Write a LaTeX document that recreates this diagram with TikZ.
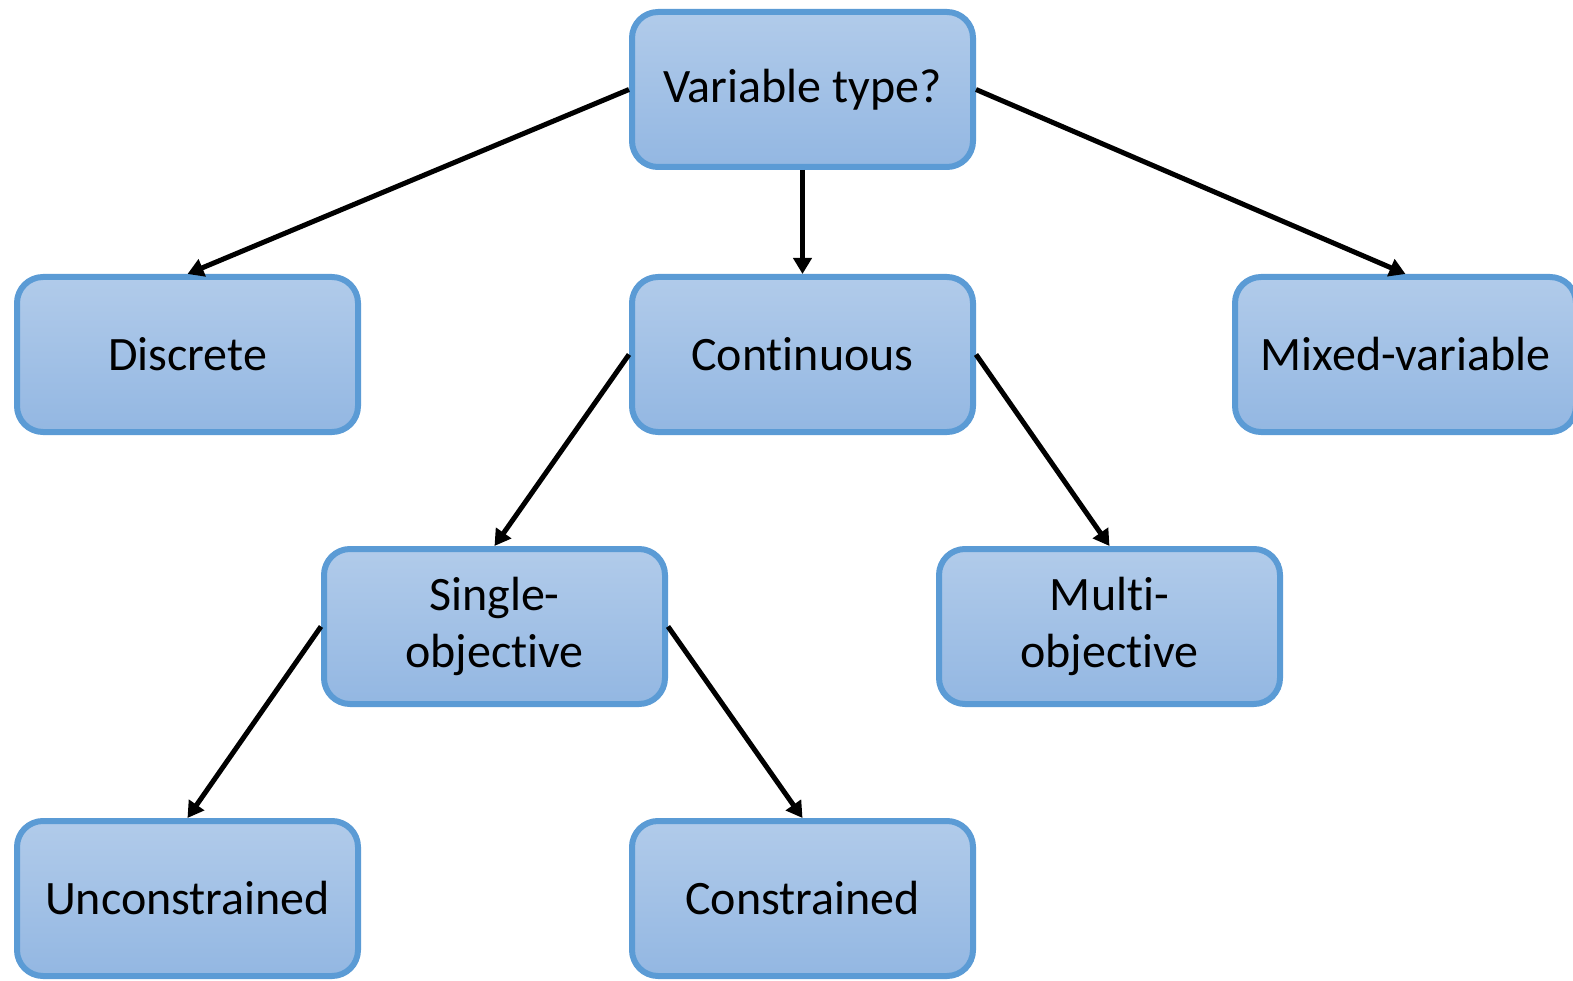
\documentclass[tikz,border=0pt]{standalone}
\usepackage{fontspec}
\setmainfont[Ligatures={NoCommon,NoContextual}]{Carlito}
\usetikzlibrary{arrows.meta}
\definecolor{boxtop}{HTML}{B1CBEA}
\definecolor{boxbot}{HTML}{93B7E2}
\definecolor{boxline}{HTML}{5B9BD5}
\begin{document}
\begin{tikzpicture}[x=1pt,y=-1pt,
  box/.style={draw=boxline, line width=6pt, rounded corners=26pt,
    top color=boxtop, bottom color=boxbot,
    minimum width=341pt, minimum height=155pt, inner sep=0pt,
    align=center, font=\fontsize{48}{57}\selectfont},
  link/.style={draw=black, line width=5pt,
    -{Triangle[length=16pt,width=18pt]}}]
\useasboundingbox (0,0) rectangle (1573,981);
\node[box] (var) at (802.5,89.5) {Variable type?};
\node[box] (disc) at (187.5,354.5) {Discrete};
\node[box] (cont) at (802.5,354.5) {Continuous};
\node[box] (mix) at (1405.5,354.5) {Mixed-variable};
\node[box] (single) at (494.5,626.5) {Single-\\objective};
\node[box] (multi) at (1109.5,626.5) {Multi-\\objective};
\node[box] (uncon) at (187.5,898.5) {Unconstrained};
\node[box] (con) at (802.5,898.5) {Constrained};
\draw[link] (var.west) -- (disc.north);
\draw[link] (var.south) -- (cont.north);
\draw[link] (var.east) -- (mix.north);
\draw[link] (cont.west) -- (single.north);
\draw[link] (cont.east) -- (multi.north);
\draw[link] (single.west) -- (uncon.north);
\draw[link] (single.east) -- (con.north);
\end{tikzpicture}
\end{document}
